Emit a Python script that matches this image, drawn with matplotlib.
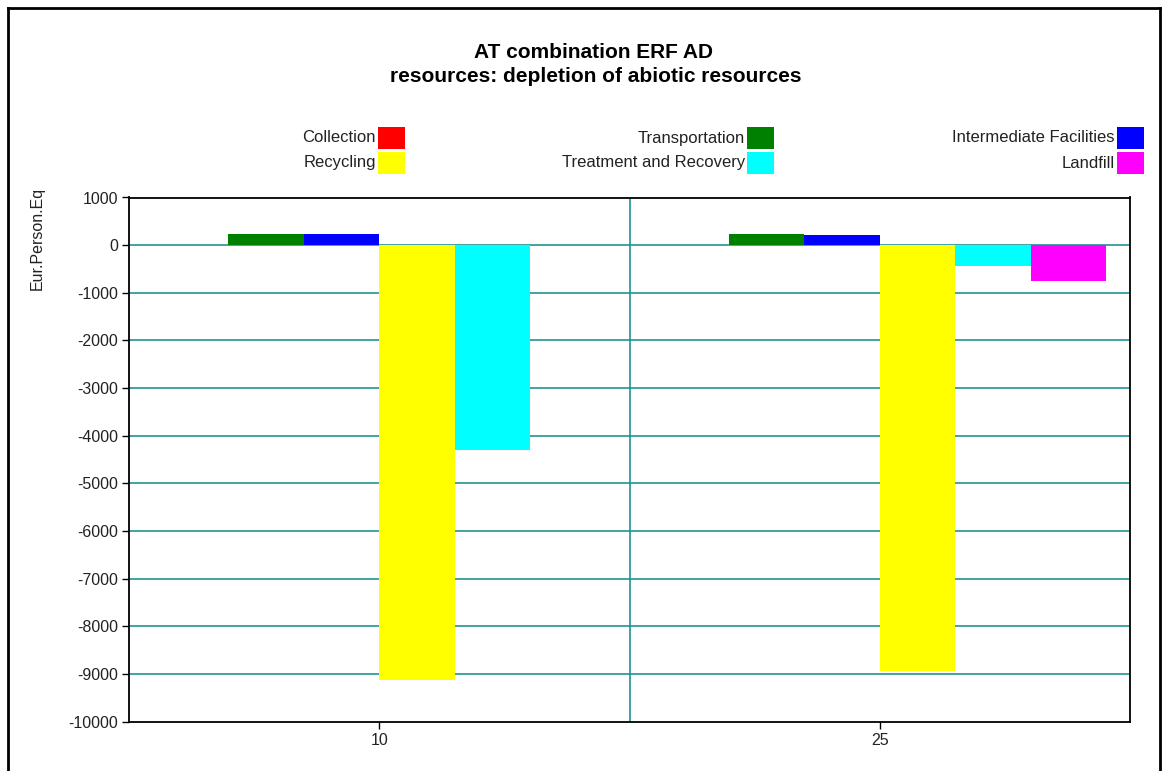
import matplotlib
matplotlib.use("Agg")
import matplotlib.pyplot as plt
from matplotlib.patches import Rectangle
from matplotlib.lines import Line2D
import numpy as np

plt.rcParams['font.family'] = ['Liberation Sans', 'DejaVu Sans']
plt.rcParams['axes.unicode_minus'] = False

# Scenario categories on the x axis
categories = ["10", "25"]

# Process stages (series) and their colours
series_names = ["Collection", "Transportation", "Intermediate Facilities",
                "Recycling", "Treatment and Recovery", "Landfill"]
series_colors = ["#FF0000", "#008000", "#0000FF", "#FFFF00", "#00FFFF", "#FF00FF"]

# Values per series, one entry per category (Eur.Person.Eq)
collection = [0, 0]
transportation = [240, 240]
intermediate = [240, 210]
recycling = [-9130, -8940]
treatment = [-4300, -430]
landfill = [0, -750]

yticks = list(range(1000, -10001, -1000))

W, H = 1168, 771
fig = plt.figure(figsize=(W / 100, H / 100), dpi=100)

def fx(px):
    return px / W

def fy(py):
    return 1 - py / H

ax = fig.add_axes([fx(129), fy(721.7), fx(1130) - fx(129), fy(197.5) - fy(721.7)])

values = [collection, transportation, intermediate, recycling, treatment, landfill]
x = np.arange(len(categories))
bw = 0.1507
n = len(series_names)
for i, (vals, col) in enumerate(zip(values, series_colors)):
    ax.bar(x + (i - (n - 1) / 2) * bw, vals, width=bw, color=col,
           edgecolor='none', zorder=3)

ax.set_xlim(-0.5, len(categories) - 0.5)
ax.set_ylim(-10000, 1000)
ax.set_yticks(yticks)
ax.set_yticklabels([str(t) for t in yticks])
ax.set_xticks(x)
ax.set_xticklabels(categories)

grid_color = '#1E9494'
for t in yticks[1:-1]:
    ax.axhline(t, color=grid_color, lw=1.2, zorder=1)
for k in range(len(categories) - 1):
    ax.axvline(k + 0.5, color=grid_color, lw=1.2, zorder=1)

for s in ax.spines.values():
    s.set_color('black')
    s.set_linewidth(1.3)
    s.set_zorder(4)

ax.tick_params(axis='both', direction='out', length=5, width=1, colors='black',
               labelsize=11.5, labelcolor='#222222', pad=3)

# axis title
fig.text(fx(37), fy(238), "Eur.Person.Eq", rotation=90, ha='center', va='center',
         fontsize=11.5, color='#222222')

# chart title
fig.text(fx(594), fy(52), "AT combination ERF AD", ha='center', va='center',
         fontsize=15, fontweight='bold', color='black')
fig.text(fx(596), fy(76), "resources: depletion of abiotic resources", ha='center',
         va='center', fontsize=15, fontweight='bold', color='black')

# legend: three columns, text right-aligned against a colour swatch
col_sq_left = [378, 747, 1117]
row_sq_top = [127, 152]
sq_w, sq_h = 27, 22
for idx, (name, col) in enumerate(zip(series_names, series_colors)):
    r, c = divmod(idx, 3)
    left = col_sq_left[c]
    top = row_sq_top[r]
    fig.add_artist(Rectangle((fx(left), fy(top + sq_h)), fx(sq_w), sq_h / H,
                             transform=fig.transFigure, facecolor=col,
                             edgecolor='none'))
    fig.text(fx(left - 2), fy(top + sq_h / 2), name, ha='right', va='center',
             fontsize=12, color='#222222')

# outer frame
for (x0, y0, x1, y1) in [(8, 8, 8, 775), (8, 8, 1160, 8), (1160, 8, 1160, 775)]:
    fig.add_artist(Line2D([fx(x0), fx(x1)], [fy(y0), fy(y1)], color='black',
                          lw=2, transform=fig.transFigure))

fig.savefig("out.png", dpi=100)
